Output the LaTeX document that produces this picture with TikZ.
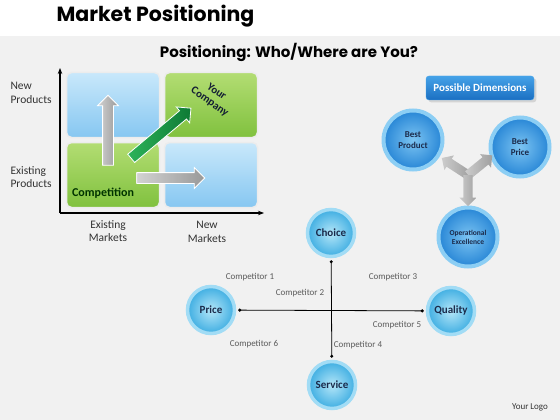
\documentclass[tikz,border=0pt]{standalone}
\usepackage{fontspec}
\setmainfont{Carlito}
\newfontfamily\headfont{Poppins}
\usetikzlibrary{positioning,shapes.arrows,shadows,arrows.meta}
\definecolor{bgray}{HTML}{F1F1F1}
\definecolor{navy}{HTML}{1B2A4A}
\definecolor{txtgray}{HTML}{333333}
\definecolor{compgray}{HTML}{5A5A5A}
\definecolor{qblueA}{HTML}{C9E8FB}
\definecolor{qblueB}{HTML}{86C7F1}
\definecolor{qgreenA}{HTML}{B3DD73}
\definecolor{qgreenB}{HTML}{80C13E}
\definecolor{dimA}{HTML}{7CC4F2}
\definecolor{dimB}{HTML}{2786D6}
\definecolor{dimring}{HTML}{8CCEF4}
\definecolor{pcA}{HTML}{B4E6F8}
\definecolor{pcB}{HTML}{3FAEE2}
\definecolor{pcring}{HTML}{A2DCF5}
\definecolor{btnA}{HTML}{45A2E8}
\definecolor{btnB}{HTML}{1B6FC2}
\definecolor{arrgreenA}{HTML}{2DB35A}
\definecolor{arrgreenB}{HTML}{0E7A35}
\tikzset{
  quad/.style={rounded corners=5pt, draw=white!85!gray, line width=1.5pt, minimum width=93pt, minimum height=65pt},
  bluequad/.style={quad, top color=qblueA, bottom color=qblueB},
  greenquad/.style={quad, top color=qgreenA, bottom color=qgreenB},
  garrow/.style={single arrow, inner sep=5pt, single arrow head extend=5pt, draw=white, line width=0.8pt, left color=gray!35, right color=gray!80},
  dimcirc/.style={circle, minimum size=59pt, inner sep=0pt, draw=dimring, line width=4pt, inner color=dimA, outer color=dimB, font=\fontsize{9}{10.5}\selectfont\bfseries, align=center, text=navy},
  pcirc/.style={circle, minimum size=47pt, inner sep=0pt, draw=pcring, line width=3.5pt, inner color=pcA, outer color=pcB, font=\fontsize{11}{12}\selectfont\bfseries, text=navy},
  comp/.style={font=\fontsize{9}{10}\selectfont, text=compgray},
  axlabel/.style={font=\fontsize{11.5}{13.5}\selectfont, text=txtgray, align=left},
}
\begin{document}
\begin{tikzpicture}[x=1pt,y=-1pt]
  \useasboundingbox (0,0) rectangle (560,420);
  \fill[white] (0,0) rectangle (560,36);
  \fill[bgray] (0,36) rectangle (560,420);
  \node[anchor=west, font=\headfont\bfseries\fontsize{20.5}{22}\selectfont] (title) at (53,16) {Market Positioning};
  \node[font=\headfont\bfseries\fontsize{15}{17}\selectfont] (subtitle) at (289,52) {Positioning: Who/Where are You?};
  % matrix
  \node[bluequad] (q11) at (113,105) {};
  \node[greenquad] (q12) at (211,105) {};
  \node[greenquad] (q21) at (113,175) {};
  \node[bluequad] (q22) at (211,175) {};
  \coordinate (o) at (60,213);
  \coordinate (ytop) at (60,68);
  \coordinate (xend) at (264,213);
  \draw[line width=1.3pt, -{Stealth[length=6pt]}] (o) -- (ytop);
  \draw[line width=1.3pt, -{Stealth[length=6pt]}] (o) -- (xend);
  \node[garrow, minimum height=70pt, rotate=90] (up) at (108,133) {};
  \node[garrow, minimum height=68pt] (right) at (168,178) {};
  \node[garrow, minimum height=78pt, left color=arrgreenA, right color=arrgreenB, rotate=40] (diag) at (159,135) {};
  \node[rotate=-35, font=\fontsize{11}{12}\selectfont\bfseries, align=center, text=navy!70!black] (yours) at (213,97) {Your\\Company};
  \node[font=\fontsize{12}{13}\selectfont\bfseries, text=green!20!black] (compet) at (103,193) {Competition};
  \node[axlabel, anchor=west] (newprod) at (7,93) {New\\Products};
  \node[axlabel, anchor=west] (exprod) at (7,177) {Existing\\Products};
  \node[axlabel, align=center] (exmark) at (108,231) {Existing\\Markets};
  \node[axlabel, align=center] (newmark) at (207,232) {New\\Markets};
  % possible dimensions
  \node[rounded corners=3pt, minimum width=108pt, minimum height=24pt, top color=btnA, bottom color=btnB,
        draw=btnA, text=white, font=\fontsize{11}{12}\selectfont\bfseries, drop shadow={opacity=0.25}] (dims) at (480,88) {Possible Dimensions};
  \node[dimcirc] (bprod) at (413,140) {Best\\Product};
  \node[dimcirc] (bprice) at (520,147) {Best\\Price};
  \node[dimcirc, font=\fontsize{7.5}{9}\selectfont\bfseries] (opex) at (468,237) {Operational\\Excellence};
  \coordinate (hub) at (468,175);
  \foreach \ang in {147,39,-90}
    \node[single arrow, inner sep=4.5pt, single arrow head extend=4pt, minimum height=31pt,
          left color=gray!40, right color=gray!75, anchor=tail, rotate=\ang] at (hub) {};
  % competitors
  \node[pcirc] (choice) at (331,233) {Choice};
  \node[pcirc] (price) at (211,310) {Price};
  \node[pcirc] (quality) at (451,311) {Quality};
  \node[pcirc] (service) at (332,385) {Service};
  \draw[line width=0.8pt, {Circle[length=3pt]}-{Circle[length=3pt]}, shorten <=2pt, shorten >=2pt] (choice) -- (service);
  \draw[line width=0.8pt, {Circle[length=3pt]}-{Circle[length=3pt]}, shorten <=2pt, shorten >=2pt] (price) -- (quality);
  \node[comp] (c1) at (250,277) {Competitor 1};
  \node[comp] (c2) at (300,293) {Competitor 2};
  \node[comp] (c3) at (393,277) {Competitor 3};
  \node[comp] (c4) at (358,345) {Competitor 4};
  \node[comp] (c5) at (397,325) {Competitor 5};
  \node[comp] (c6) at (254,344) {Competitor 6};
  \node[font=\fontsize{9}{10}\selectfont, text=txtgray] (logo) at (530,407) {Your Logo};
\end{tikzpicture}
\end{document}
